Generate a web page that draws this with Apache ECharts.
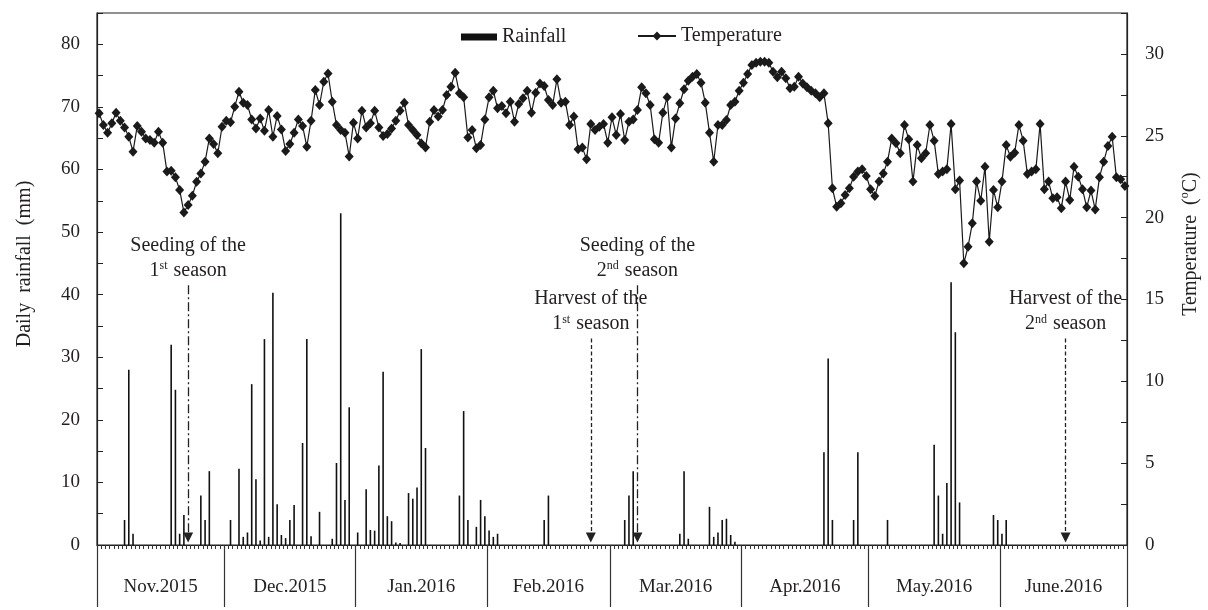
<!DOCTYPE html>
<html><head><meta charset="utf-8">
<script src="https://cdn.jsdelivr.net/npm/echarts@6/dist/echarts.min.js"></script>
<style>html,body{margin:0;padding:0;background:#fff}#c{width:1208px;height:610px}</style>
</head><body><div id="c"></div>
<script>
// ---------------- DATA ----------------
const monthNames = ['Nov.2015','Dec.2015','Jan.2016','Feb.2016','Mar.2016','Apr.2016','May.2016','June.2016'];
const monthKeys  = ['2015-11','2015-12','2016-01','2016-02','2016-03','2016-04','2016-05','2016-06'];
const monthDays  = [30,31,31,29,31,30,31,30];

// daily mean temperature (°C)
const tempNov = [26.37,25.66,25.19,25.76,26.41,25.92,25.51,24.94,24.03,25.6,25.25,24.84,24.74,24.58,25.25,24.58,22.81,22.87,22.46,21.69,20.32,20.77,21.34,22.19,22.7,23.42,24.84,24.5,23.93,25.55];
const tempDec = [25.92,25.82,26.78,27.69,27.02,26.88,26.0,25.45,26.06,25.31,26.57,24.94,26.21,25.39,24.07,24.5,25.19,26.0,25.6,24.33,25.92,27.8,26.88,28.3,28.8,27.08,25.66,25.35,25.19,23.74,25.8];
const tempJan = [24.84,26.53,25.51,25.76,26.53,25.51,24.98,25.11,25.45,25.92,26.53,27.02,25.66,25.35,25.05,24.54,24.29,25.86,26.57,26.17,26.57,27.49,28.0,28.85,27.59,27.35,24.9,25.35,24.23,24.43,26.0];
const tempFeb = [27.35,27.75,26.68,26.82,26.37,27.08,25.86,26.94,27.29,27.75,26.41,27.63,28.2,28.04,27.18,26.88,28.45,27.02,27.08,25.66,26.17,24.17,24.29,23.56,25.72,25.35,25.55,25.72,24.58];
const tempMar = [26.13,25.05,26.33,24.74,25.86,26.0,26.57,27.96,27.59,26.88,24.78,24.58,26.41,27.35,24.29,26.06,26.98,27.84,28.36,28.61,28.77,28.24,27.02,25.19,23.42,25.66,25.66,25.96,26.88,27.08,27.75];
const tempApr = [28.24,28.77,29.32,29.46,29.52,29.52,29.46,28.91,28.57,28.91,28.51,27.9,28.0,28.61,28.2,27.96,27.75,27.59,27.35,27.59,25.76,21.79,20.67,20.87,21.38,21.79,22.5,22.81,22.95,22.54];
const tempMay = [21.73,21.32,22.2,22.7,23.42,24.84,24.54,23.93,25.66,24.78,22.2,24.43,23.62,23.93,25.66,24.7,22.66,22.81,22.95,25.72,21.73,22.26,17.21,18.22,19.65,22.2,21.03,23.11,18.53,21.69,20.63];
const tempJun = [22.2,24.43,23.72,23.97,25.66,24.7,22.66,22.81,22.95,25.72,21.73,22.2,21.18,21.24,20.57,22.2,21.08,23.11,22.5,21.73,20.63,21.65,20.5,22.46,23.42,24.37,24.94,22.46,22.34,21.93];

// daily rainfall (mm)
const rainNov = [0,0,0,0,0,0,4.0,28,1.8,0, 0,0,0,0,0,0,0,32,24.8,1.8, 4.8,0,0,0,7.9,4.0,11.8,0,0,0];
const rainDec = [0,4.0,0,12.2,1.3,2.0,25.7,10.5,0.7,32.9, 1.3,40.3,6.5,1.6,1.1,4.0,6.4,0,16.3,32.9, 1.4,0,5.3,0,0,1.0,13.1,53,7.2,22.0, 0];
const rainJan = [2.0,0,8.9,2.4,2.3,12.7,27.7,4.6,3.8,0.4, 0.3,0,8.3,7.4,9.2,31.3,15.5,0,0,0, 0,0,0,0,7.9,21.4,4.0,0,2.9,7.2, 4.6];
const rainFeb = [2.3,1.3,1.8,0,0,0,0,0,0,0, 0,0,0,4.0,7.9,0,0,0,0,0, 0,0,0,0,0,0,0,0,0];
const rainMar = [0,0,0,4.0,7.9,11.8,0,0,0,0, 0,0,0,0,0,0,1.8,11.8,1.0,0, 0,0,0,6.1,1.3,2.0,4.0,4.2,1.6,0.5, 0];
const rainApr = [0,0,0,0,0,0,0,0,0,0, 0,0,0,0,0,0,0,0,0,14.8, 29.8,4.0,0,0,0,0,4.0,14.8,0,0];
const rainMay = [0,0,0,0,4.0,0,0,0,0,0, 0,0,0,0,0,16.0,7.9,1.8,9.9,42.0, 34.0,6.8,0,0,0,0,0,0,0,4.8, 4.0];
const rainJun = [1.8,4.0,0,0,0,0,0,0,0,0, 0,0,0,0,0,0,0,0,0,0, 0,0,0,0,0,0,0,0,0,0];

// annotations (arrow day, arrow top on rainfall axis, text, line kind)
const annotDays  = ['2015-11-22','2016-02-25','2016-03-07','2016-06-16'];
const annotTop   = [41.5, 33, 41.5, 33];
const annotLine1 = ['Seeding of the','Harvest of the','Seeding of the','Harvest of the'];
const annotNum   = ['1','1','2','2'];
const annotSup   = ['st','st','nd','nd'];
const annotKind  = ['dashdot','dash','dashdot','dash'];

// ---------------- BUILD ----------------
const tempAll = [].concat(tempNov,tempDec,tempJan,tempFeb,tempMar,tempApr,tempMay,tempJun);
const rainAll = [].concat(rainNov,rainDec,rainJan,rainFeb,rainMar,rainApr,rainMay,rainJun);
const days = [];
monthKeys.forEach((k,m)=>{ for(let d=1; d<=monthDays[m]; d++) days.push(k+'-'+String(d).padStart(2,'0')); });
const edges=[0]; monthDays.forEach(n=>edges.push(edges[edges.length-1]+n));
const mids = monthDays.map((n,i)=>edges[i]+n/2);

const FONT='Liberation Serif', TXT='#231f20';
const markData = annotDays.map((d,i)=>[
  {coord:[d, annotTop[i]],
   lineStyle:{type: annotKind[i]==='dash'?[4,2.5]:[9,3,2,3], color:'#222', width:1.3},
   label:{show:true, position:'start', distance:2,
     formatter: annotLine1[i]+'\n'+annotNum[i]+'{sup|'+annotSup[i]+'} season',
     fontFamily:FONT, fontSize:20, color:TXT, lineHeight:25, align:'center',
     rich:{sup:{fontFamily:FONT, fontSize:12, color:TXT, lineHeight:25, verticalAlign:'top', padding:[2,1,0,0]}}}},
  {coord:[d, 1.2]}
]);

const chart = echarts.init(document.getElementById('c'), null, {renderer:'canvas'});
chart.setOption({
  animation:false,
  backgroundColor:'#fff',
  textStyle:{fontFamily:FONT, color:TXT},
  grid:{left:97, right:81, top:13, bottom:65, containLabel:false, outerBoundsMode:'none',
        show:true, borderColor:'#222', borderWidth:1.2, backgroundColor:'transparent'},
  legend:[
    {left:461, top:27, padding:0, itemWidth:36, itemHeight:7,
     textStyle:{fontFamily:FONT, fontSize:20, color:TXT},
     data:[{name:'Rainfall', icon:'rect'}]},
    {left:637, top:26, padding:0, itemWidth:38, itemHeight:11,
     textStyle:{fontFamily:FONT, fontSize:20, color:TXT},
     data:[{name:'Temperature'}]}
  ],
  xAxis:[
    {type:'category', data:days, boundaryGap:true, position:'bottom',
     axisLine:{show:true, lineStyle:{color:'#222', width:1.2}},
     axisTick:{show:true, interval:0, length:4, lineStyle:{color:'#333', width:1}},
     axisLabel:{show:false}, splitLine:{show:false}},
    {type:'value', min:0, max:edges[edges.length-1], position:'bottom',
     axisLine:{show:false},
     axisTick:{show:true, customValues:edges, length:62, lineStyle:{color:'#333', width:1.2}},
     axisLabel:{show:true, customValues:mids, margin:33, fontFamily:FONT, fontSize:19, color:TXT,
       formatter:(v)=>{const k=mids.indexOf(v); return k>=0?monthNames[k]:'';}},
     splitLine:{show:false}}
  ],
  yAxis:[
    {type:'value', min:0, max:85, interval:5, position:'left',
     name:'Daily  rainfall  (mm)', nameLocation:'middle', nameGap:62, nameRotate:90,
     nameTextStyle:{fontFamily:FONT, fontSize:20, color:TXT, padding:[0,0,0,30]},
     axisLine:{show:true, lineStyle:{color:'#222', width:1.2}},
     axisTick:{show:true, inside:true, length:6, lineStyle:{color:'#222'}},
     axisLabel:{margin:17, fontFamily:FONT, fontSize:19, color:TXT,
       formatter:(v)=> (v%10===0 && v<=80) ? String(v) : ''},
     splitLine:{show:false}},
    {type:'value', min:0, max:32.5, interval:2.5, position:'right',
     name:'Temperature  ({sup|o}C)', nameLocation:'middle', nameGap:52, nameRotate:90,
     nameTextStyle:{fontFamily:FONT, fontSize:20, color:TXT, lineHeight:24, padding:[0,0,0,70],
       rich:{sup:{fontFamily:FONT, fontSize:12, color:TXT, lineHeight:24, verticalAlign:'top'}}},
     axisLine:{show:true, lineStyle:{color:'#222', width:1.2}},
     axisTick:{show:true, inside:true, length:6, lineStyle:{color:'#222'}},
     axisLabel:{margin:18, fontFamily:FONT, fontSize:19, color:TXT,
       formatter:(v)=> (Math.abs(v%5)<1e-9 && v<=30) ? String(v) : ''},
     splitLine:{show:false}}
  ],
  series:[
    {name:'Rainfall', type:'bar', xAxisIndex:0, yAxisIndex:0, data:rainAll,
     barWidth:1.6, itemStyle:{color:'#111'},
     markLine:{silent:true, symbol:['none','triangle'], symbolSize:10, data:markData,
       lineStyle:{color:'#222'}}},
    {name:'Temperature', type:'line', xAxisIndex:0, yAxisIndex:1, data:tempAll,
     showAllSymbol:true, symbol:'diamond', symbolSize:[9,10],
     lineStyle:{color:'#1a1a1a', width:1.2}, itemStyle:{color:'#1a1a1a'}, z:3}
  ]
});
</script></body></html>
